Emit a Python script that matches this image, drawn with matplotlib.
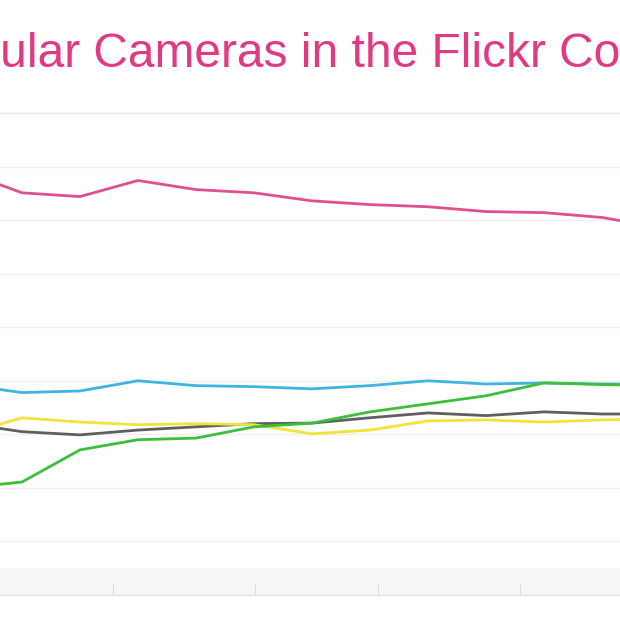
# popular cameras on flickr - cropped view of the trend chart
import numpy as np
import matplotlib.pyplot as plt

# month index (first and last are only partly visible in the crop)
months = [-1, 0, 1, 2, 3, 4, 5, 6, 7, 8, 9, 10, 11]

# relative number of users per camera (one grid step = 1)
pink = [7.91, 7.51, 7.44, 7.74, 7.57, 7.51, 7.36, 7.29, 7.25, 7.16, 7.14, 7.05, 6.86]
cyan = [3.93, 3.78, 3.81, 4.00, 3.91, 3.89, 3.85, 3.91, 4.00, 3.94, 3.96, 3.94, 3.94]
yellow = [2.99, 3.31, 3.23, 3.18, 3.20, 3.18, 3.01, 3.08, 3.25, 3.27, 3.23, 3.27, 3.29]
gray = [3.21, 3.05, 2.99, 3.08, 3.14, 3.20, 3.21, 3.31, 3.40, 3.35, 3.42, 3.38, 3.38]
green = [2.00, 2.11, 2.71, 2.90, 2.93, 3.14, 3.21, 3.42, 3.57, 3.72, 3.96, 3.93, 3.91]

title = 'Most Popular Cameras in the Flickr Community'
tick_pos = [1.57, 4.02, 6.14, 8.59]

fig = plt.figure(figsize=(6.2, 6.2), dpi=100)
ax = fig.add_axes([0, 0.0403, 1, 0.7774])

# light grey band just above the bottom axis
ax.axhspan(0, 0.5, color='#f7f7f7', zorder=0)

# draw order: lower lines first, green over cyan on the right
kw = dict(lw=2.0, solid_joinstyle='round', solid_capstyle='round')
ax.plot(months, cyan, color='#3db5e0', **kw)
ax.plot(months, pink, color='#e0508f', **kw)
ax.plot(months, gray, color='#5f5f5f', **kw)
ax.plot(months, yellow, color='#efe33c', **kw)
ax.plot(months, green, color='#3cbf3a', **kw)

ax.set_xlim(-0.379, 10.31)
ax.set_ylim(0, 9)
ax.set_yticks(np.arange(0, 10, 1))
ax.set_xticks(tick_pos)
ax.grid(axis='y', color='#efefef', lw=1)
ax.tick_params(axis='x', direction='in', length=8, color='#dcdcdc', labelbottom=False)
ax.tick_params(axis='y', length=0, labelleft=False)
for side in ['left', 'right']:
    ax.spines[side].set_visible(False)
ax.spines['top'].set_color('#e6e6e6')
ax.spines['bottom'].set_color('#e0e0e0')

# title is cut off on both sides: shift it so that "ular" starts at the left edge
r = fig.canvas.get_renderer()
t = fig.text(0, 0, 'Most Pop', fontsize=34.5, family='Liberation Sans')
w = t.get_window_extent(r).width
t.remove()
fig.text(-w / 620, 1 - 67 / 620, title, fontsize=34.5, family='Liberation Sans',
         color='#e03a82', va='baseline', ha='left')

plt.savefig('out.png', dpi=100)
